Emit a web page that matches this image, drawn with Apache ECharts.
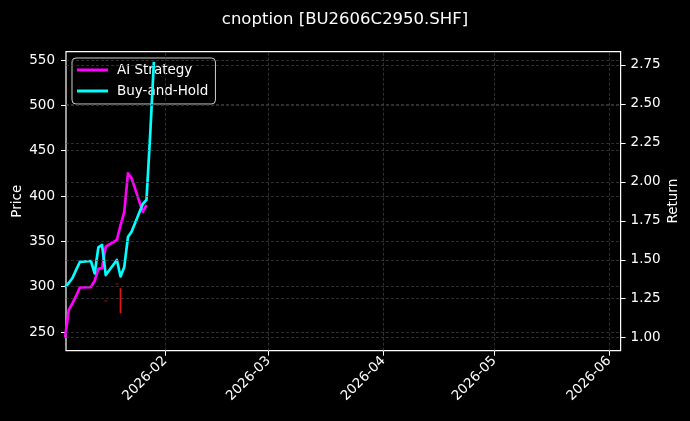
<!DOCTYPE html>
<html>
<head>
<meta charset="utf-8">
<script src="https://cdn.jsdelivr.net/npm/echarts@6.0.0/dist/echarts.min.js"></script>
<style>
html,body{margin:0;padding:0;background:#000;}
#chart{width:690px;height:421px;}
</style>
</head>
<body>
<div id="chart"></div>
<script>
// ---- data ----
const titleText = 'cnoption [BU2606C2950.SHF]';
const strategyDates = ['2026-01-05','2026-01-06','2026-01-07','2026-01-08','2026-01-09',
  '2026-01-12','2026-01-13','2026-01-14','2026-01-15','2026-01-16',
  '2026-01-19','2026-01-20','2026-01-21','2026-01-22','2026-01-23',
  '2026-01-26','2026-01-27'];
const aiStrategy = [1.000,1.178,1.220,1.268,1.322,
  1.325,1.364,1.442,1.447,1.584,
  1.627,1.723,1.807,2.054,2.022,
  1.807,1.852];
const holdDates = ['2026-01-05','2026-01-06','2026-01-07','2026-01-08','2026-01-09',
  '2026-01-12','2026-01-13','2026-01-14','2026-01-15','2026-01-16',
  '2026-01-19','2026-01-20','2026-01-21','2026-01-22','2026-01-23',
  '2026-01-26','2026-01-27','2026-01-28','2026-01-29'];
const buyAndHold = [1.325,1.351,1.383,1.435,1.486,
  1.492,1.412,1.579,1.595,1.402,
  1.499,1.393,1.454,1.646,1.682,
  1.858,1.884,2.301,2.770];
// red price marks (left axis)
const wickDates = ['2026-01-20'];
const wickLow = [270.6];
const wickHigh = [298.2];
const dotDates = ['2026-01-16','2026-01-19'];
const dotPrices = [284.5, 302.9];
// axes
const xRange = ['2026-01-05 06:15','2026-06-04 02:00'];
const monthTicks = ['2026-02-01','2026-03-01','2026-04-01','2026-05-01','2026-06-01'];
const monthLabels = ['2026-02','2026-03','2026-04','2026-05','2026-06'];
const priceRange = [229.4, 559.2];
const priceTicks = [250,300,350,400,450,500,550];
const returnRange = [0.9166, 2.835];
const returnTicks = [1.00,1.25,1.50,1.75,2.00,2.25,2.50,2.75];

// ---- helpers ----
function ts(s){
  const parts = s.split(' ');
  const ymd = parts[0].split('-').map(Number);
  let hh=0, mm=0;
  if(parts[1]){ const t = parts[1].split(':').map(Number); hh=t[0]; mm=t[1]; }
  return Date.UTC(ymd[0], ymd[1]-1, ymd[2], hh, mm);
}
const monthTs = monthTicks.map(ts);
const FONT = 'DejaVu Sans';
const gridLine = {color:'#444444', width:0.7, type:[3,2]};

const chart = echarts.init(document.getElementById('chart'), null, {renderer:'canvas'});
chart.setOption({
  backgroundColor:'#000',
  animation:false,
  title:{
    text: titleText, left:'center', top:6,
    textStyle:{color:'#fff', fontSize:16.5, fontWeight:'normal', fontFamily:FONT}
  },
  legend:{
    data:['AI Strategy','Buy-and-Hold'],
    orient:'vertical', left:72, top:58,
    icon:'rect', itemWidth:31, itemHeight:3, itemGap:5,
    padding:[4,7,5,5],
    backgroundColor:'rgba(0,0,0,0.8)', borderColor:'#d0d0d0', borderWidth:1, borderRadius:4,
    textStyle:{color:'#fff', fontSize:13.5, fontFamily:FONT, lineHeight:16, padding:[0,0,0,4]}
  },
  grid:{left:66, right:69.4, top:51.7, bottom:70.3, show:true, borderColor:'#fff', borderWidth:1.2,
    backgroundColor:'transparent', containLabel:false, outerBoundsMode:'none'},
  xAxis:{
    type:'value', min:ts(xRange[0]), max:ts(xRange[1]),
    axisLine:{show:false},
    axisTick:{show:true, length:5, lineStyle:{color:'#fff'}, customValues:monthTs},
    axisLabel:{show:true, rotate:45, margin:8, color:'#fff', fontSize:13.5, fontFamily:FONT,
      customValues:monthTs,
      formatter:function(v){ const i = monthTs.indexOf(v); return i>=0 ? monthLabels[i] : ''; }},
    splitLine:{show:false}
  },
  yAxis:[
    {
      type:'value', position:'left', min:priceRange[0], max:priceRange[1],
      name:'Price', nameLocation:'middle', nameRotate:90, nameGap:42, nameMoveOverlap:false,
      nameTextStyle:{color:'#fff', fontSize:13.5, fontFamily:FONT},
      axisLine:{show:false},
      axisTick:{show:true, length:5, lineStyle:{color:'#fff'}, customValues:priceTicks},
      axisLabel:{color:'#fff', fontSize:13.5, fontFamily:FONT, margin:11, customValues:priceTicks},
      splitLine:{show:false}
    },
    {
      type:'value', position:'right', min:returnRange[0], max:returnRange[1],
      name:'Return', nameLocation:'middle', nameRotate:90, nameGap:46, nameMoveOverlap:false,
      nameTextStyle:{color:'#fff', fontSize:13.5, fontFamily:FONT},
      axisLine:{show:false},
      axisTick:{show:true, length:5, lineStyle:{color:'#fff'}, customValues:returnTicks},
      axisLabel:{color:'#fff', fontSize:13.5, fontFamily:FONT, margin:10, customValues:returnTicks,
        formatter:function(v){ return Number(v).toFixed(2); }},
      splitLine:{show:false}
    }
  ],
  series:[
    {
      name:'gridPrice', type:'line', yAxisIndex:0, data:[], z:1, silent:true,
      markLine:{silent:true, symbol:['none','none'], label:{show:false}, lineStyle:gridLine,
        animation:false,
        data: priceTicks.map(v=>({yAxis:v}))}
    },
    {
      name:'gridReturn', type:'line', yAxisIndex:1, data:[], z:1, silent:true,
      markLine:{silent:true, symbol:['none','none'], label:{show:false}, lineStyle:gridLine,
        animation:false,
        data: returnTicks.map(v=>({yAxis:v})).concat(monthTs.map(t=>({xAxis:t})))}
    },
    {
      name:'wick', type:'line', yAxisIndex:0, z:2, symbol:'none',
      lineStyle:{color:'#e01515', width:1.8},
      data: wickDates.map((d,i)=>[ts(d), wickLow[i]]).concat(wickDates.map((d,i)=>[ts(d), wickHigh[i]]))
    },
    {
      name:'dots', type:'scatter', yAxisIndex:0, z:2, symbol:'rect', symbolSize:[3,1.5],
      itemStyle:{color:'#801010'},
      data: dotDates.map((d,i)=>[ts(d), dotPrices[i]])
    },
    {
      name:'AI Strategy', type:'line', yAxisIndex:1, z:3, symbol:'none', showSymbol:false,
      lineStyle:{color:'#ff00ff', width:2.7, join:'round'}, itemStyle:{color:'#ff00ff'},
      data: strategyDates.map((d,i)=>[ts(d), aiStrategy[i]])
    },
    {
      name:'Buy-and-Hold', type:'line', yAxisIndex:1, z:4, symbol:'none', showSymbol:false,
      lineStyle:{color:'#00ffff', width:2.7, join:'round'}, itemStyle:{color:'#00ffff'},
      data: holdDates.map((d,i)=>[ts(d), buyAndHold[i]])
    }
  ]
});
</script>
</body>
</html>
